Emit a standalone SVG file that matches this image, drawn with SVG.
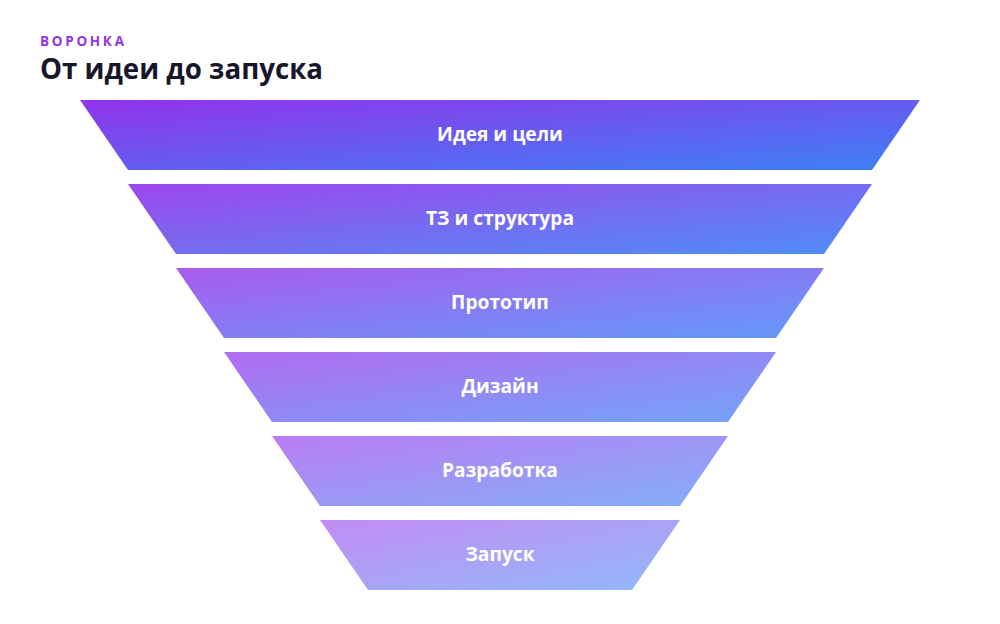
<svg xmlns="http://www.w3.org/2000/svg" width="1000" height="624" viewBox="0 0 1000 624">
<style>
.kicker{font-family:"Open Sans","Noto Sans",sans-serif;font-size:13.5px;font-weight:700;letter-spacing:2.7px;fill:#9333ea}
.title{font-family:"Open Sans","Noto Sans",sans-serif;font-size:27.7px;font-weight:700;fill:#17172a}
.lbl{font-family:"Open Sans","Noto Sans",sans-serif;font-size:19.2px;font-weight:700;fill:#ffffff;text-anchor:middle}
</style>
<defs>
<linearGradient id="g" x1="0" y1="0" x2="1" y2="1">
<stop offset="0" stop-color="#9333ea"/>
<stop offset="1" stop-color="#3b82f6"/>
</linearGradient>
</defs>
<rect width="1000" height="624" fill="#ffffff"/>
<text class="kicker" x="40" y="46">ВОРОНКА</text>
<text class="title" x="40" y="79">От идеи до запуска</text>
<g id="stage1"><polygon points="80,100 920,100 872,170 128,170" fill="url(#g)" fill-opacity="1"/><text class="lbl" x="500" y="141">Идея и цели</text></g>
<g id="stage2"><polygon points="128,184 872,184 824,254 176,254" fill="url(#g)" fill-opacity="0.9"/><text class="lbl" x="500" y="225">ТЗ и структура</text></g>
<g id="stage3"><polygon points="176,268 824,268 776,338 224,338" fill="url(#g)" fill-opacity="0.8"/><text class="lbl" x="500" y="309">Прототип</text></g>
<g id="stage4"><polygon points="224,352 776,352 728,422 272,422" fill="url(#g)" fill-opacity="0.72"/><text class="lbl" x="500" y="393">Дизайн</text></g>
<g id="stage5"><polygon points="272,436 728,436 680,506 320,506" fill="url(#g)" fill-opacity="0.64"/><text class="lbl" x="500" y="477">Разработка</text></g>
<g id="stage6"><polygon points="320,520 680,520 632,590 368,590" fill="url(#g)" fill-opacity="0.56"/><text class="lbl" x="500" y="561">Запуск</text></g>
<g id="connectors"></g>
</svg>
